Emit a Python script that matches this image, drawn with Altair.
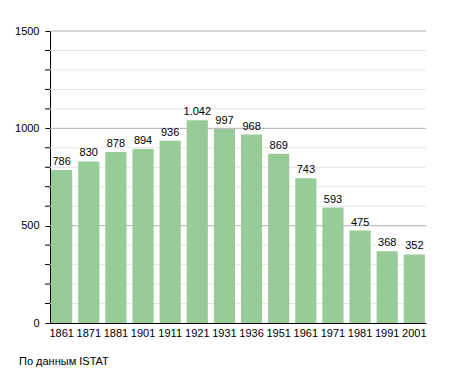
import altair as alt
import pandas as pd

years = ["1861", "1871", "1881", "1901", "1911", "1921", "1931", "1936", "1951", "1961", "1971", "1981", "1991", "2001"]
population = [786, 830, 878, 894, 936, 1042, 997, 968, 869, 743, 593, 475, 368, 352]
labels = ["786", "830", "878", "894", "936", "1.042", "997", "968", "869", "743", "593", "475", "368", "352"]
minor_grid = [100, 200, 300, 400, 600, 700, 800, 900, 1100, 1200, 1300, 1400]
major_grid = [500, 1000, 1500]
major_ticks = [0, 500, 1000, 1500]
footnote = "По данным ISTAT"

df = pd.DataFrame({"year": years, "pop": population, "label": labels})
W, H = 376, 292
FONT = "Liberation Sans"

ysc = alt.Scale(domain=[0, 1500], nice=False)
xsc = alt.Scale(paddingInner=0.22, paddingOuter=0.04)

yaxis = alt.Axis(values=major_ticks, grid=False, domainColor="black", tickColor="black",
                 tickSize=5, labelPadding=6, labelFont=FONT, labelFontSize=11,
                 labelColor="black", format="d")

minor_df = pd.DataFrame({"v": minor_grid})
minor = alt.Chart(minor_df).mark_rule(color="#e6e6e6", strokeWidth=1).encode(
    y=alt.Y("v:Q", scale=ysc, axis=yaxis, title=None))
minor_ticks = alt.Chart(minor_df).mark_rule(color="black", strokeWidth=1).encode(
    y=alt.Y("v:Q", scale=ysc, title=None), x=alt.value(-5), x2=alt.value(0))
major = alt.Chart(pd.DataFrame({"v": major_grid})).mark_rule(color="#b0b0b0", strokeWidth=1).encode(
    y=alt.Y("v:Q", scale=ysc, title=None))

base = alt.Chart(df)
bars = base.mark_bar(color="#97cb97").encode(
    x=alt.X("year:N", sort=years, scale=xsc, title=None,
            axis=alt.Axis(labelAngle=0, ticks=False, domainColor="black", labelFont=FONT,
                          labelFontSize=11, labelColor="black", labelPadding=4, grid=False)),
    y=alt.Y("pop:Q", scale=ysc, title=None),
)
text = base.mark_text(dy=-8, font=FONT, fontSize=11, color="black").encode(
    x=alt.X("year:N", sort=years, scale=xsc),
    y=alt.Y("pop:Q", scale=ysc),
    text="label:N",
)

chart = alt.layer(minor, major, minor_ticks, bars, text).properties(
    width=W, height=H,
    autosize=alt.AutoSizeParams(type="none"),
    padding={"left": 42, "top": 23, "right": 21, "bottom": 50},
    title=alt.Title(footnote, orient="bottom", anchor="start", frame="group", dx=-31, offset=18,
                    font=FONT, fontSize=11, fontWeight="normal", color="black"),
).configure_view(stroke=None).configure_axis(domainWidth=1)

chart.save("out.html", embed_options={"renderer": "svg", "actions": False})
